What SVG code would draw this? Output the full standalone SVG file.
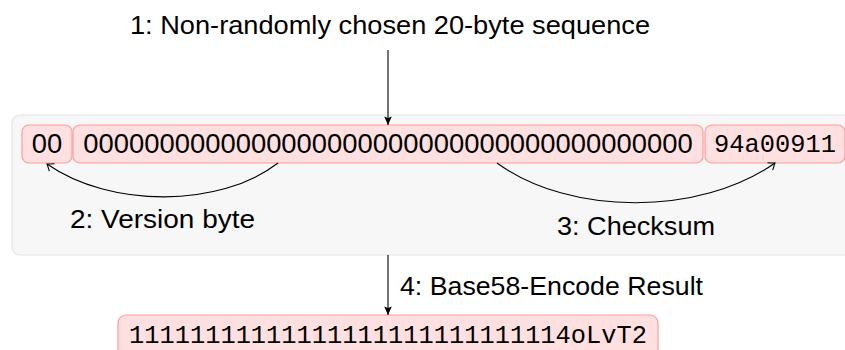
<svg xmlns="http://www.w3.org/2000/svg" width="845" height="350" viewBox="0 0 845 350">
  <defs>
    <style>
      .panel { fill: #f7f7f7; stroke: #e4e4e4; stroke-width: 1.2; }
      .cell { fill: #ffe0e0; stroke: #ff9c9c; stroke-width: 1.2; }
      .label { font-family: "Liberation Sans", Arial, sans-serif; font-size: 26px; fill: #000; }
      .digits { font-family: "Liberation Sans", Arial, sans-serif; font-size: 27.4px; fill: #000; }
      .mono { font-family: "Liberation Mono", "Courier New", monospace; font-size: 25.4px; fill: #000; }
      .edge { fill: none; stroke: #000; stroke-width: 1.1; }
    </style>
    <marker id="solid" markerUnits="userSpaceOnUse" markerWidth="12" markerHeight="12" viewBox="-10 -6 12 12" refX="0" refY="0" orient="auto">
      <path d="M -8.5 -3.8 L 0 0 L -8.5 3.8 L -7 0 Z" fill="#000"/>
    </marker>
    <marker id="open" markerUnits="userSpaceOnUse" markerWidth="14" markerHeight="14" viewBox="-10 -7 12 14" refX="0" refY="0" orient="auto">
      <path d="M -6 -4.5 Q -1.5 -1 0 0 Q -1.5 1 -6 4.5" fill="none" stroke="#000" stroke-width="1.1"/>
    </marker>
  </defs>

  <!-- container for the raw 25-byte payload -->
  <rect class="panel" x="12" y="115" width="860" height="140" rx="8" ry="8"/>

  <g id="title">
    <text class="label" x="130" y="34" textLength="520" lengthAdjust="spacingAndGlyphs">1: Non-randomly chosen 20-byte sequence</text>
  </g>

  <g id="version">
    <rect class="cell" x="22" y="125" width="50" height="38" rx="7" ry="7"/>
    <text class="digits" x="47" y="153" text-anchor="middle">00</text>
  </g>

  <g id="payload">
    <rect class="cell" x="73" y="125" width="630" height="38" rx="7" ry="7"/>
    <text class="digits" x="388" y="153" text-anchor="middle">0000000000000000000000000000000000000000</text>
  </g>

  <g id="checksum">
    <rect class="cell" x="705" y="125" width="140" height="38" rx="7" ry="7"/>
    <text class="mono" x="775" y="152" text-anchor="middle">94a00911</text>
  </g>

  <g id="result">
    <rect class="cell" x="118" y="315" width="540" height="50" rx="8" ry="8"/>
    <text class="mono" x="388" y="343" text-anchor="middle">11111111111111111111111111114oLvT2</text>
  </g>

  <g id="labels">
    <text class="label" x="70" y="228" textLength="185" lengthAdjust="spacingAndGlyphs">2: Version byte</text>
    <text class="label" x="557" y="235" textLength="158" lengthAdjust="spacingAndGlyphs">3: Checksum</text>
    <text class="label" x="400" y="295" textLength="303" lengthAdjust="spacingAndGlyphs">4: Base58-Encode Result</text>
  </g>

  <g id="connectors">
    <path class="edge" d="M 388 50 L 388 125" marker-end="url(#solid)"/>
    <path class="edge" d="M 388 255 L 388 315" marker-end="url(#solid)"/>
    <path class="edge" d="M 278 163 C 220 208 110 208 47 164" marker-end="url(#open)"/>
    <path class="edge" d="M 497 163 C 570 216 700 216 775 163" marker-end="url(#open)"/>
  </g>
</svg>
